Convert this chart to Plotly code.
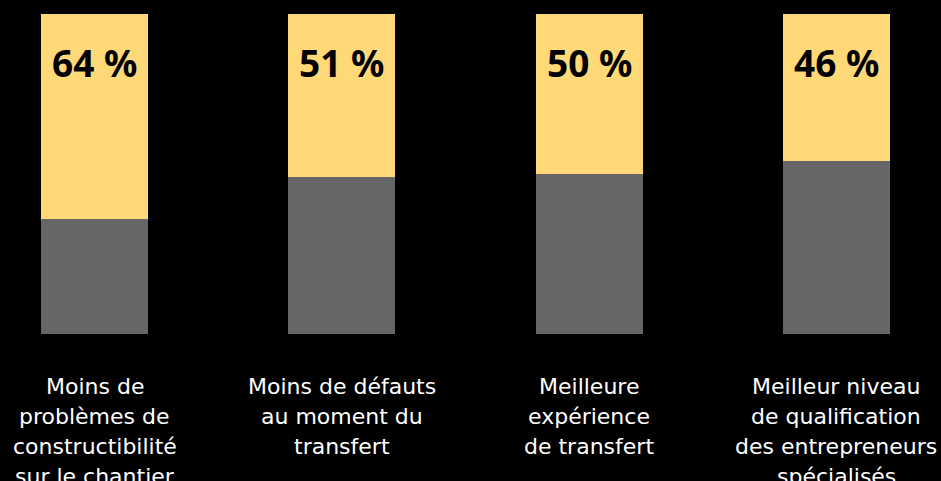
import plotly.graph_objects as go

categories = [
    ["Moins de", "problèmes de", "constructibilité", "sur le chantier"],
    ["Moins de défauts", "au moment du", "transfert"],
    ["Meilleure", "expérience", "de transfert"],
    ["Meilleur niveau", "de qualification", "des entrepreneurs", "spécialisés"],
]
values = [64, 51, 50, 46]
rest = [100 - v for v in values]
value_labels = ["64 %", "51 %", "50 %", "46 %"]

YELLOW = "#FFD978"
GRAY = "#666666"
FONT = "Noto Sans"

W, H = 941, 481
# pixel geometry of the reference: bar centers and scale
x0_px, step_px = 94.5, 247.3
y0_px, ppu = 334, 3.2  # y pixel of value 0, pixels per unit

xs = list(range(len(values)))

fig = go.Figure()
fig.add_trace(go.Bar(x=xs, y=rest, marker_color=GRAY, width=107 / step_px,
                     marker_line_width=0, hoverinfo="skip"))
fig.add_trace(go.Bar(x=xs, y=values, marker_color=YELLOW, width=107 / step_px,
                     marker_line_width=0, hoverinfo="skip"))

annotations = []
for i, lab in enumerate(value_labels):
    annotations.append(dict(
        x=i, y=(y0_px - 62) / ppu, text=lab, showarrow=False,
        xanchor="center", yanchor="middle",
        font=dict(family=FONT, size=37, color="#000000", weight="bold"),
    ))
line_px = 30
for i, lines in enumerate(categories):
    for j, ln in enumerate(lines):
        annotations.append(dict(
            x=i, y=(y0_px - (386 + j * line_px)) / ppu, text=ln,
            showarrow=False, xanchor="center", yanchor="middle",
            font=dict(family="DejaVu Sans", size=22, color="#FFFFFF"),
        ))

fig.update_layout(
    width=W, height=H,
    margin=dict(l=0, r=0, t=0, b=0),
    paper_bgcolor="#000000", plot_bgcolor="#000000",
    barmode="stack", showlegend=False,
    xaxis=dict(range=[-x0_px / step_px, (W - x0_px) / step_px], visible=False),
    yaxis=dict(range=[-(H - y0_px) / ppu, y0_px / ppu], visible=False),
    annotations=annotations,
)

fig.write_html(
    "out.html",
    config={"displayModeBar": False},
    post_script="document.body.style.margin='0';document.body.style.background='#000';",
)
